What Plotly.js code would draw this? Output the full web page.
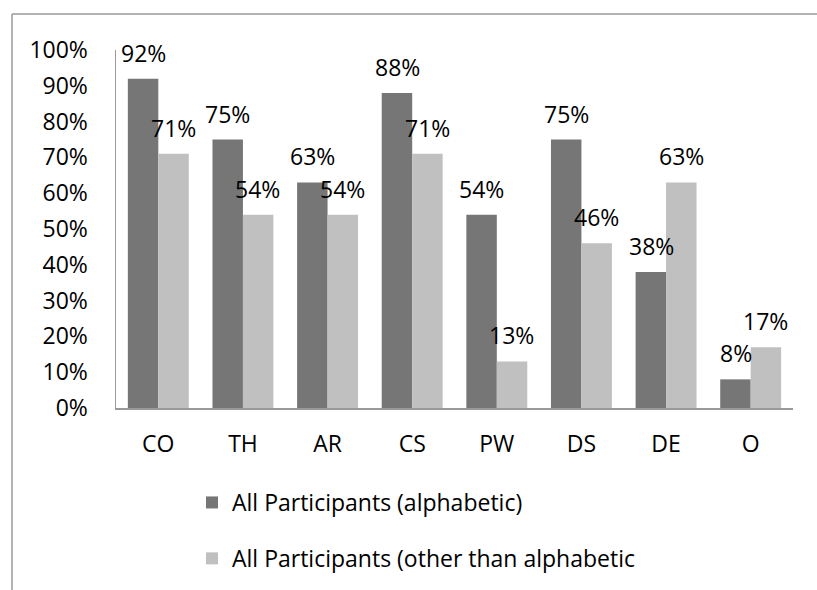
<!DOCTYPE html>
<html>
<head>
<meta charset="utf-8">
<script src="https://cdn.plot.ly/plotly-3.0.1.min.js"></script>
<style>html,body{margin:0;padding:0;background:#fff;}#chart{width:817px;height:590px;}</style>
</head>
<body>
<div id="chart"></div>
<script>
const categories = ["CO", "TH", "AR", "CS", "PW", "DS", "DE", "O"];
const alphabetic = [0.92, 0.75, 0.63, 0.88, 0.54, 0.75, 0.38, 0.08];
const otherThanAlphabetic = [0.71, 0.54, 0.54, 0.71, 0.13, 0.46, 0.63, 0.17];
const seriesNames = ["All Participants (alphabetic)", "All Participants (other than alphabetic"];
const yTickVals = [0, 0.1, 0.2, 0.3, 0.4, 0.5, 0.6, 0.7, 0.8, 0.9, 1.0];

const FONT = "Open Sans, sans-serif";
const FS = 23;
const dark = "#767676";
const light = "#c0c0c0";

const traces = [
  {type: "bar", x: categories, y: alphabetic, name: seriesNames[0], marker: {color: dark}, legendgroup: "a", hoverinfo: "none"},
  {type: "bar", x: categories, y: otherThanAlphabetic, name: seriesNames[1], marker: {color: light}, legendgroup: "b", hoverinfo: "none"}
];

const annotations = [];
[alphabetic, otherThanAlphabetic].forEach((vals, si) => {
  vals.forEach((v, i) => {
    annotations.push({
      x: categories[i], y: v, xref: "x", yref: "y",
      text: Math.round(v * 100) + "%",
      showarrow: false, xshift: si === 0 ? -15 : 15, yshift: 26,
      font: {family: FONT, size: FS, color: "#000"}
    });
  });
});

const W = 677, H = 358, L = 116, B0 = 408;
const px = p => (p - L) / W;
const py = p => (B0 - p) / H;

const layout = {
  width: 817, height: 590,
  margin: {l: 116, r: 24, t: 50, b: 182, autoexpand: false},
  paper_bgcolor: "#fff", plot_bgcolor: "#fff",
  font: {family: FONT, size: FS, color: "#000"},
  barmode: "group", bargap: 0.28, bargroupgap: 0,
  showlegend: true,
  legend: {
    x: px(192), xanchor: "left", y: py(481), yanchor: "top",
    traceorder: "grouped", tracegroupgap: 23,
    font: {family: FONT, size: FS, color: "#000"},
    bgcolor: "rgba(0,0,0,0)"
  },
  xaxis: {
    type: "category", showline: true, linecolor: "#999", linewidth: 1.5,
    ticks: "", showgrid: false, zeroline: false,
    ticklabelstandoff: 15,
    tickfont: {family: FONT, size: FS, color: "#000"}
  },
  yaxis: {
    range: [0, 1], tickvals: yTickVals, tickformat: ".0%",
    showline: true, linecolor: "#999", linewidth: 1.5,
    ticks: "", showgrid: false, zeroline: false,
    ticklabelstandoff: 22,
    tickfont: {family: FONT, size: FS, color: "#000"}
  },
  annotations: annotations,
  shapes: [
    {type: "line", xref: "paper", yref: "paper", x0: px(12), x1: px(830), y0: py(14), y1: py(14), line: {color: "#999", width: 1.5}},
    {type: "line", xref: "paper", yref: "paper", x0: px(12), x1: px(12), y0: py(14), y1: py(600), line: {color: "#999", width: 1.5}}
  ]
};

Plotly.newPlot("chart", traces, layout, {displayModeBar: false, staticPlot: true});
</script>
</body>
</html>
